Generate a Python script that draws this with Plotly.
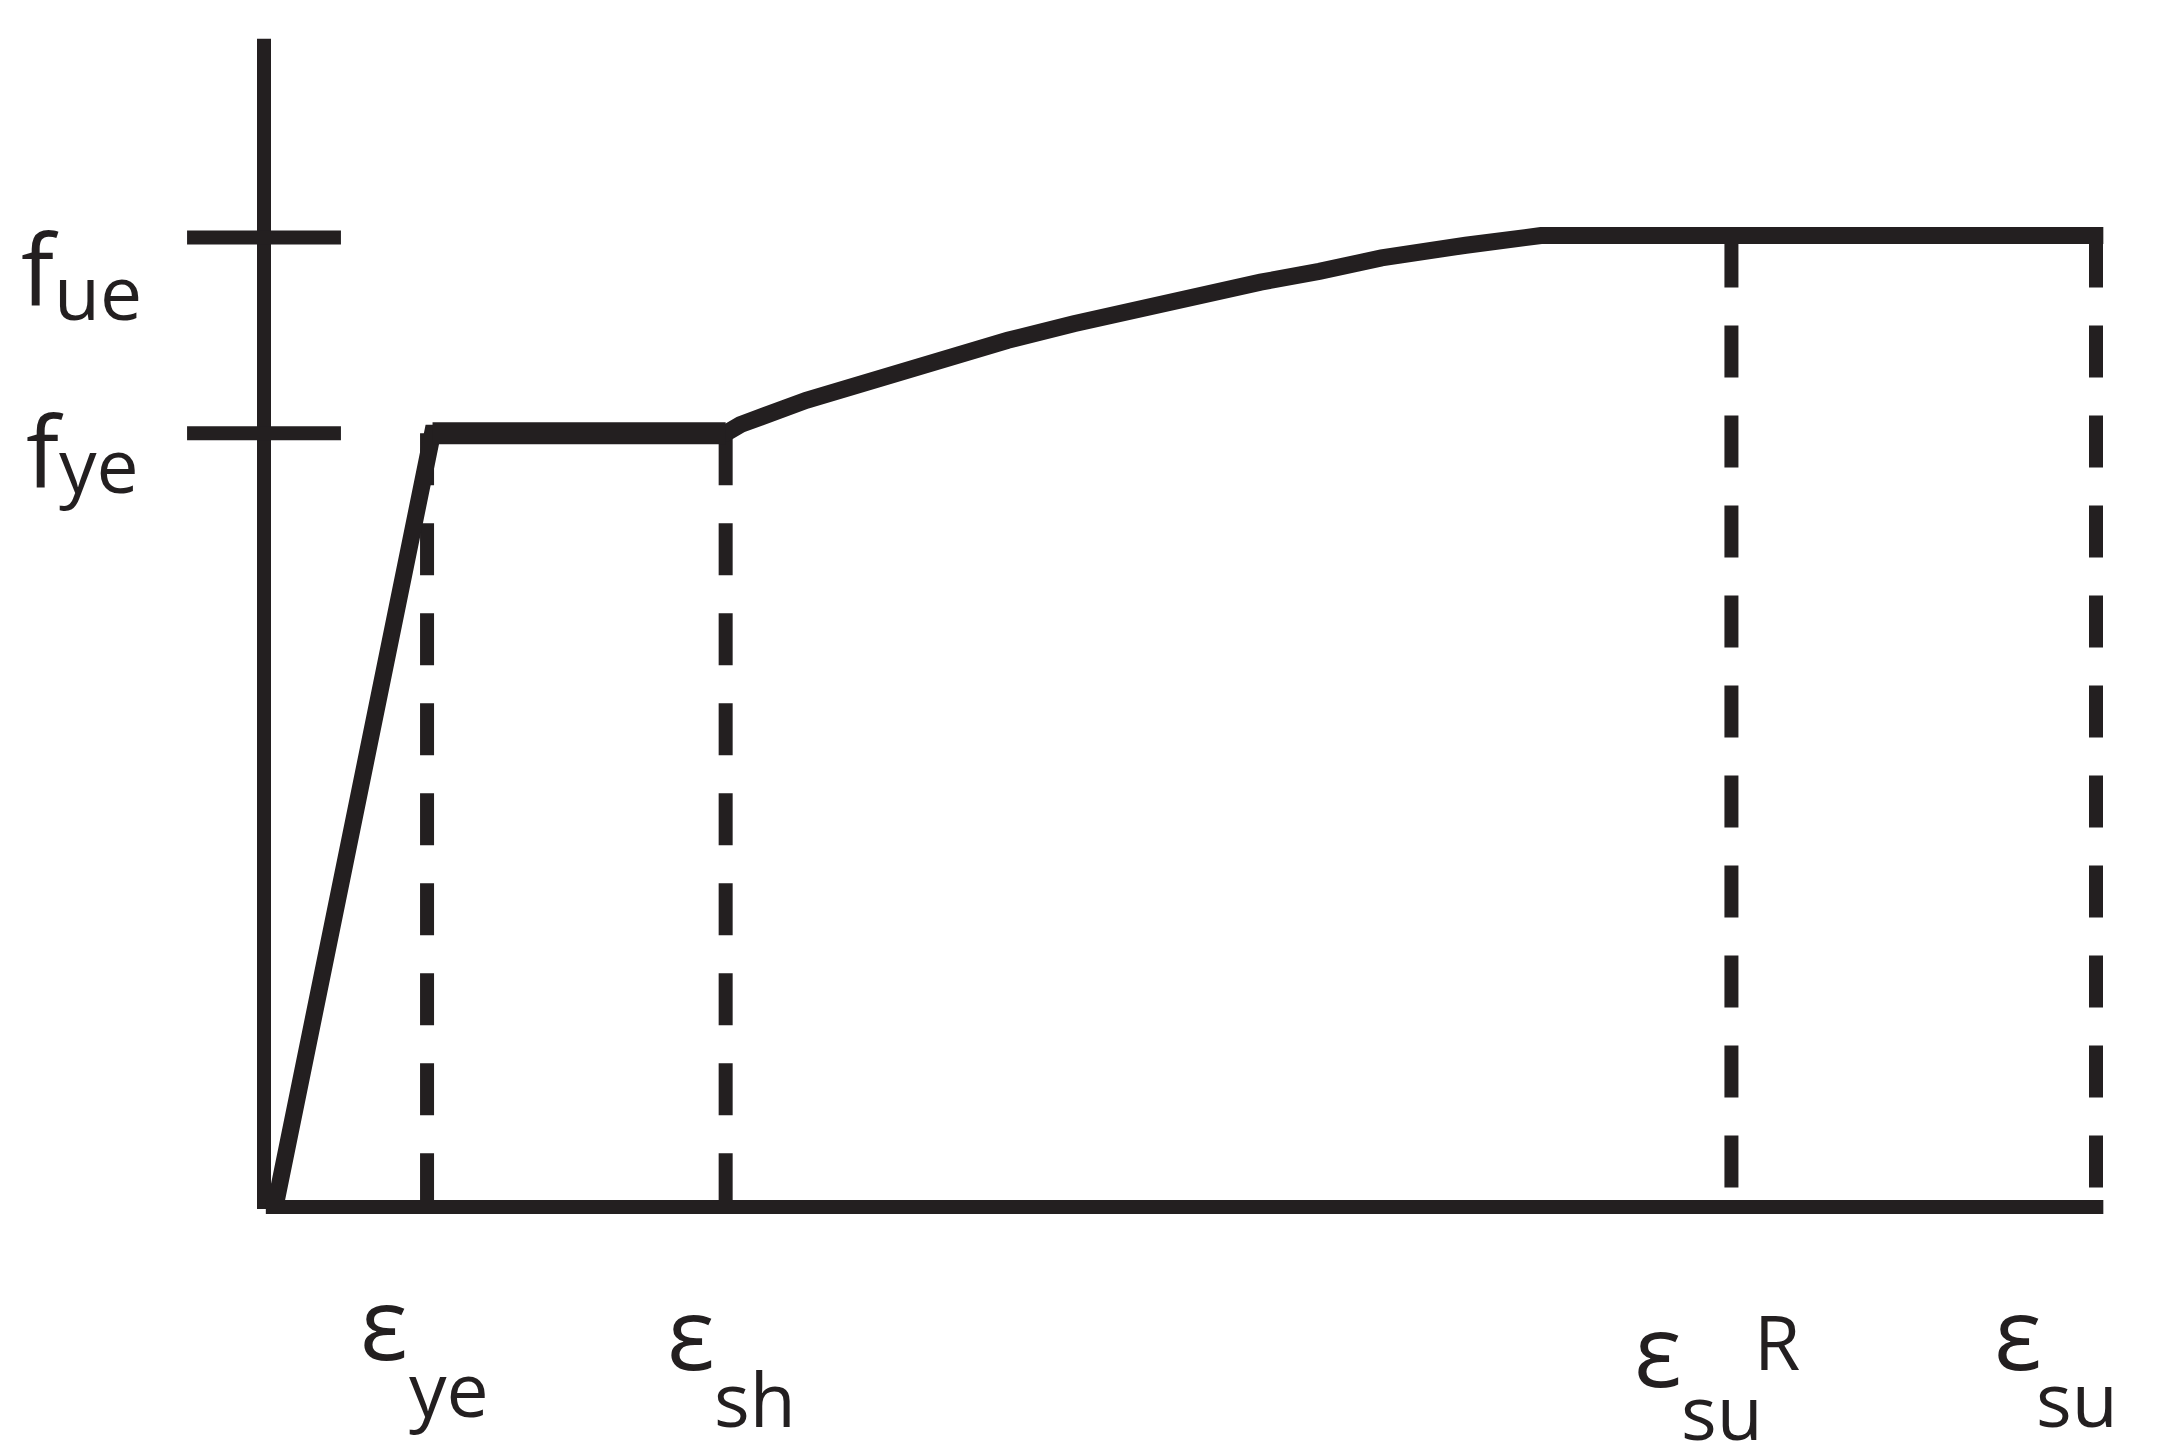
import plotly.graph_objects as go

# ---- data (normalised strain / stress units) ----
strain_ticks = [8.9, 25.2, 80.1, 100.0]          # eps_ye, eps_sh, eps_su^R, eps_su
stress_ticks = [79.8, 100.0]                      # f_ye, f_ue
dash_tops = [79.8, 79.8, 100.2, 100.2]            # where each dashed line meets the curve

curve_strain = [0.6, 9.2, 25.2, 26.0, 29.6, 33.2, 36.9, 40.6, 44.2, 47.8, 49.6,
                52.3, 54.4, 57.6, 61.0, 65.6, 69.7, 100.4]
curve_stress = [0.0, 79.8, 79.8, 80.7, 83.2, 85.3, 87.2, 89.4, 91.1, 92.6, 93.6,
                94.8, 95.4, 96.5, 97.9, 99.2, 100.2, 100.2]
plateau_idx = [1, 2]

axis_x_end = 100.4
axis_y_end = 120.5
tick_half = 4.2

INK = "#231f20"
FONT = "Open Sans"

fig = go.Figure()

# dashed reference lines
for xv, top in zip(strain_ticks, dash_tops):
    fig.add_trace(go.Scatter(x=[xv, xv], y=[top, 0], mode="lines",
                             line=dict(color=INK, width=14, dash="52px,38px"),
                             hoverinfo="skip", showlegend=False))

# stress-strain curve
fig.add_trace(go.Scatter(x=curve_strain, y=curve_stress, mode="lines",
                         line=dict(color=INK, width=17), hoverinfo="skip", showlegend=False))
fig.add_trace(go.Scatter(x=[curve_strain[i] for i in plateau_idx],
                         y=[curve_stress[i] for i in plateau_idx], mode="lines",
                         line=dict(color=INK, width=22), hoverinfo="skip", showlegend=False))

# axes
fig.add_trace(go.Scatter(x=[0, 0], y=[-0.2, axis_y_end], mode="lines",
                         line=dict(color=INK, width=14), hoverinfo="skip", showlegend=False))
fig.add_trace(go.Scatter(x=[0.1, axis_x_end], y=[0, 0], mode="lines",
                         line=dict(color=INK, width=14), hoverinfo="skip", showlegend=False))
# stress ticks on y axis
tx, ty = [], []
for sv in stress_ticks:
    tx += [-tick_half, tick_half, None]
    ty += [sv, sv, None]
fig.add_trace(go.Scatter(x=tx, y=ty, mode="lines", line=dict(color=INK, width=14),
                         hoverinfo="skip", showlegend=False))

# ---- labels ----
DESC = 0.293
ADJ_X, ADJ_Y = 5, 7          # empirical correction of the text box metrics


def add_label(text, ax, ay, dx, dy, size, lsb):
    """dx: px from anchor to ink-left; dy: px from anchor down to baseline."""
    fig.add_annotation(x=ax, y=ay, xref="x", yref="y", text=text, showarrow=False,
                       xanchor="left", yanchor="bottom",
                       xshift=dx - lsb * size - 2 + ADJ_X,
                       yshift=-(dy + 2 + DESC * size + ADJ_Y),
                       font=dict(family=FONT, size=size, color=INK))


MAIN, SUB = 100, 75
# stress labels
add_label("f", 0, stress_ticks[1], -246, 62, 98, 0.02)
add_label("ue", 0, stress_ticks[1], -209, 76, SUB, 0.08)
add_label("f", 0, stress_ticks[0], -241, 48, 98, 0.02)
add_label("ye", 0, stress_ticks[0], -209, 53, SUB, 0.01)

# strain labels
add_label("ε", strain_ticks[0], 0, -66, 146, MAIN, 0.06)
add_label("ye", strain_ticks[0], 0, -22, 203, SUB, 0.01)
add_label("ε", strain_ticks[1], 0, -58, 156, MAIN, 0.06)
add_label("sh", strain_ticks[1], 0, -13, 213, SUB, 0.05)
add_label("ε", strain_ticks[2], 0, -96, 173, MAIN, 0.06)
add_label("su", strain_ticks[2], 0, -52, 226, SUB, 0.05)
add_label("R", strain_ticks[2], 0, 24, 156, SUB, 0.09)
add_label("ε", strain_ticks[3], 0, -101, 156, MAIN, 0.06)
add_label("su", strain_ticks[3], 0, -61, 213, SUB, 0.05)

PAGE_MARGIN = 8             # default body margin of the html page
W, H = 2167 - PAGE_MARGIN, 1455 - PAGE_MARGIN
X0, Y0 = 264 - PAGE_MARGIN, 1207 - PAGE_MARGIN   # pixel position of origin inside the figure
SX, SY = 18.32, 9.695       # px per unit
fig.update_layout(
    width=W, height=H,
    margin=dict(l=0, r=0, t=0, b=0),
    paper_bgcolor="white", plot_bgcolor="white",
    xaxis=dict(range=[-X0 / SX, (W - X0) / SX], visible=False, fixedrange=True),
    yaxis=dict(range=[(Y0 - H) / SY, Y0 / SY], visible=False, fixedrange=True),
    showlegend=False,
)

fig.write_html("out.html")
